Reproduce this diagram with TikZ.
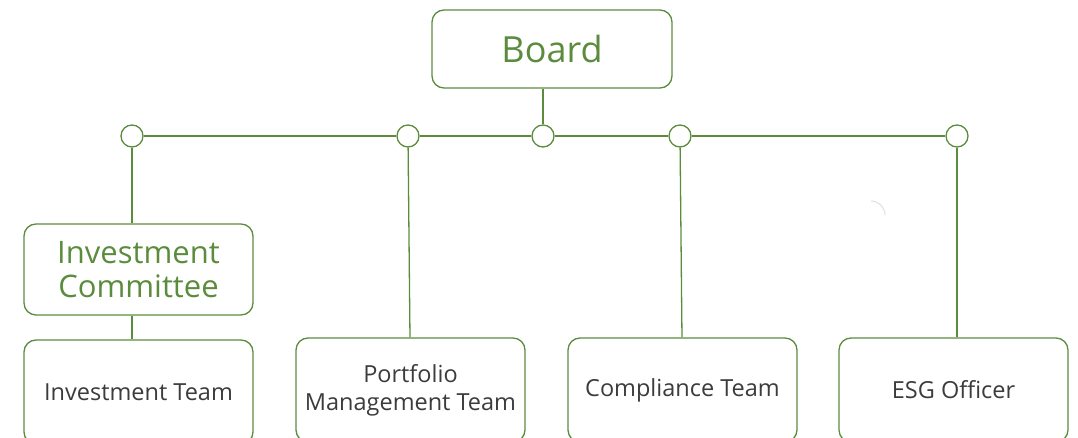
\documentclass[tikz,border=0pt]{standalone}
\usepackage{fontspec}
\setmainfont{Open Sans}
\usetikzlibrary{positioning}
\definecolor{leafgreen}{HTML}{5B8C3E}
\definecolor{inkgrey}{HTML}{3C3C3C}

\tikzset{
    unitbox/.style={draw=leafgreen, line width=1.3pt, rounded corners=12pt, fill=white,
        minimum width=229pt, align=center, inner sep=0pt},
    teambox/.style={unitbox, minimum height=104pt, text=inkgrey, font=\fontsize{23.5}{28}\selectfont},
    joint/.style={circle, draw=leafgreen, line width=1.3pt, fill=white, minimum size=22pt, inner sep=0pt},
    link/.style={draw=leafgreen, line width=1.3pt}
}

\begin{document}
\begin{tikzpicture}[x=1pt, y=-1pt]
    \useasboundingbox (0,0) rectangle (1078,438);
    \clip (0,0) rectangle (1078,438);

    % top of the chart
    \node[unitbox, minimum width=240pt, minimum height=78pt, text=leafgreen,
        font=\fontsize{36}{40}\selectfont] (board) at (552,49) {Board};

    \node[joint] (j1) at (132,136) {};
    \node[joint] (j2) at (408,136) {};
    \node[joint] (j3) at (543,136) {};
    \node[joint] (j4) at (680,136) {};
    \node[joint] (j5) at (957,136) {};

    % units
    \node[unitbox, minimum height=91pt, text=leafgreen,
        font=\fontsize{31}{34}\selectfont] (committee) at (138.5,269.5) {Investment\\Committee};
    \node[teambox] (invteam) at (138.5,392) {Investment Team};
    \node[teambox] (pmteam) at (410.5,390) {Portfolio\\Management Team};
    \node[teambox] (compteam) at (682.5,390) {Compliance Team};
    \node[teambox] (esg) at (953.5,390) {ESG Officer};

    % connectors
    \draw[link] (board.south -| j3) -- (j3);
    \draw[link] (j1) -- (j2);
    \draw[link] (j2) -- (j3);
    \draw[link] (j3) -- (j4);
    \draw[link] (j4) -- (j5);
    \draw[link] (j1) -- (j1 |- committee.north);
    \draw[link] (committee.south -| j1) -- (invteam.north -| j1);
    \draw[link] (j2) -- (pmteam);
    \draw[link] (j4) -- (compteam);
    \draw[link] (j5) -- (j5 |- esg.north);

    \draw[gray!25, line width=1pt] (871,201) arc[start angle=-90, end angle=0, radius=14];
\end{tikzpicture}
\end{document}
